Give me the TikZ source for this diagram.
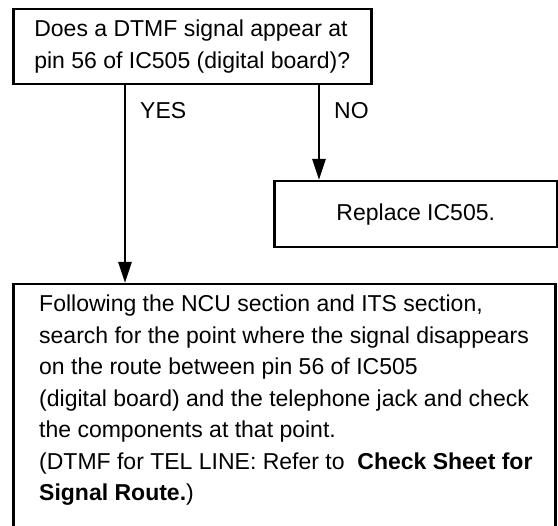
\documentclass[tikz,border=0pt]{standalone}
\usepackage{fontspec}
\setmainfont{Liberation Sans}
\usetikzlibrary{arrows.meta}
\tikzset{
  box/.style={draw=black, line width=2.5pt, rectangle, inner sep=0pt, anchor=north west},
  txt/.style={font=\fontsize{23}{31.5}\selectfont, align=left},
  flow/.style={draw=black, line width=2.5pt, -{Triangle[width=13pt,length=21pt]}},
  lbl/.style={font=\fontsize{23}{31.5}\selectfont, inner sep=0pt, anchor=base west}
}
\begin{document}
\begin{tikzpicture}[x=1pt,y=-1pt]
\useasboundingbox (0,0) rectangle (558,526);
\clip (0,0) rectangle (558,526);
\fill[white] (0,0) rectangle (558,526);
% question box
\node[box, txt, minimum width=358pt, minimum height=75pt]
  (q) at (12,8) {Does a DTMF signal appear at\\pin 56 of IC505 (digital board)?};
% replace box
\node[box, font=\fontsize{23}{31.5}\selectfont, minimum width=283pt, minimum height=66pt]
  (r) at (273,180) {Replace IC505.};
% action box (runs past the lower edge)
\node[box, minimum width=542pt, minimum height=300pt] (a) at (12,283) {};
\node[txt, inner sep=0pt, anchor=north west] (at) at (39,295)
  {Following the NCU section and ITS section,\\
   search for the point where the signal disappears\\
   on the route between pin 56 of IC505\\
   (digital board) and the telephone jack and check\\
   the components at that point.\\
   (DTMF for TEL LINE: Refer to~~\textbf{Check Sheet for}\\
   \textbf{Signal Route.})};
% connectors
\coordinate (yesx) at (125,0);
\coordinate (nox) at (319,0);
\draw[flow] (q.south -| yesx) -- (a.north -| yesx);
\draw[flow] (q.south -| nox) -- (r.north -| nox);
\node[lbl] (yes) at (140,119) {YES};
\node[lbl] (no) at (334,119) {NO};
\end{tikzpicture}
\end{document}
